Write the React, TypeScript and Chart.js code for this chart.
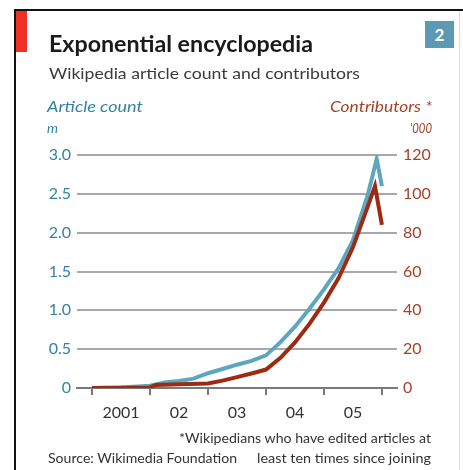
import React, { useEffect, useLayoutEffect, useRef } from "react";
import { Chart, registerables } from "chart.js";

Chart.register(...registerables);

// ---- data ----
const ARTICLE_YEARS = [2001.0, 2001.5, 2002.0, 2002.25, 2002.5, 2002.75, 2003.0, 2003.25, 2003.5, 2003.75, 2004.0, 2004.25, 2004.5, 2004.75, 2005.0, 2005.25, 2005.5, 2005.75, 2005.91, 2006.0];
const ARTICLE_COUNT_M = [0.0, 0.005, 0.03, 0.07, 0.09, 0.12, 0.19, 0.245, 0.3, 0.35, 0.42, 0.59, 0.79, 1.02, 1.27, 1.54, 1.9, 2.47, 2.95, 2.6];

const CONTRIB_YEARS = [2001.0, 2002.0, 2002.1, 2002.5, 2003.0, 2003.25, 2003.5, 2003.75, 2004.0, 2004.25, 2004.5, 2004.75, 2005.0, 2005.25, 2005.5, 2005.75, 2005.88, 2006.0];
const CONTRIBUTORS_K = [0, 0.3, 1.6, 1.9, 2.3, 3.8, 5.6, 7.5, 9.5, 15.5, 23.5, 33, 44, 56.5, 72.5, 93, 104, 84];

const YEAR_BOUNDARIES = [2001, 2002, 2003, 2004, 2005, 2006];
const YEAR_LABEL_POS = [2001.5, 2002.5, 2003.5, 2004.5, 2005.5];
const YEAR_LABELS = ["2001", "02", "03", "04", "05"];

const LEFT_MIN = 0, LEFT_MAX = 3, LEFT_STEP = 0.5;
const RIGHT_MIN = 0, RIGHT_MAX = 120, RIGHT_STEP = 20;
const X_MIN = 2000.74, X_MAX = 2006.26;

// ---- style ----
const BLUE = "#5ea6bf";
const RED = "#9b2c13";
const BLUE_TXT = "#3383a0";
const RED_TXT = "#a3412a";
const GRID = "#a8a8a8";
const AXIS = "#7a7a7a";
const FONT = "Lato, 'Open Sans', sans-serif";

type TxtProps = {
  left: number; width?: number; cy: number; size: number;
  weight?: number | string; italic?: boolean; color: string; children: React.ReactNode;
};

function Txt({ left, width, cy, size, weight = 400, italic = false, color, children }: TxtProps) {
  const ref = useRef<HTMLDivElement>(null);
  useLayoutEffect(() => {
    const el = ref.current;
    if (!el || !width) return;
    el.style.transform = "none";
    const w = el.getBoundingClientRect().width;
    if (w > 0) el.style.transform = `scaleX(${width / w})`;
  });
  return (
    <div
      ref={ref}
      style={{
        position: "absolute",
        left,
        top: cy - size * 0.6,
        fontFamily: FONT,
        fontSize: size,
        lineHeight: `${size * 1.2}px`,
        fontWeight: weight as any,
        fontStyle: italic ? "italic" : "normal",
        color,
        whiteSpace: "nowrap",
        transformOrigin: "0 50%",
      }}
    >
      {children}
    </div>
  );
}

export default function App() {
  const canvasRef = useRef<HTMLCanvasElement>(null);

  useEffect(() => {
    const canvas = canvasRef.current;
    if (!canvas) return;
    const chart = new Chart(canvas, {
      type: "line",
      data: {
        datasets: [
          {
            label: "Contributors ('000)",
            data: CONTRIB_YEARS.map((x, i) => ({ x, y: CONTRIBUTORS_K[i] })),
            borderColor: RED,
            borderWidth: 4,
            pointRadius: 0,
            tension: 0,
            borderJoinStyle: "miter",
            yAxisID: "yR",
            xAxisID: "x",
            order: 0,
          },
          {
            label: "Article count (m)",
            data: ARTICLE_YEARS.map((x, i) => ({ x, y: ARTICLE_COUNT_M[i] })),
            borderColor: BLUE,
            borderWidth: 4,
            pointRadius: 0,
            tension: 0,
            borderJoinStyle: "miter",
            yAxisID: "yL",
            xAxisID: "x",
            order: 1,
          },
        ],
      },
      options: {
        responsive: false,
        animation: false,
        devicePixelRatio: 1,
        layout: { padding: { top: 155, left: 0, right: 0, bottom: 0 } },
        plugins: { legend: { display: false }, tooltip: { enabled: false }, title: { display: false } },
        scales: {
          x: {
            type: "linear",
            position: "bottom",
            weight: 0,
            min: X_MIN,
            max: X_MAX,
            afterBuildTicks: (s: any) => { s.ticks = YEAR_BOUNDARIES.map((v) => ({ value: v })); },
            afterFit: (s: any) => { s.height = 14; },
            ticks: { display: false },
            grid: { display: true, drawOnChartArea: false, drawTicks: true, tickLength: 7, color: AXIS, lineWidth: 2 },
            border: { display: true, color: AXIS, width: 2 },
          },
          x2: {
            type: "linear",
            position: "bottom",
            weight: 1,
            min: X_MIN,
            max: X_MAX,
            afterBuildTicks: (s: any) => { s.ticks = YEAR_LABEL_POS.map((v) => ({ value: v })); },
            afterFit: (s: any) => { s.height = 68; },
            ticks: {
              autoSkip: false,
              maxRotation: 0,
              padding: 1,
              color: "#333",
              font: { family: FONT, size: 16 },
              callback: (_v: any, i: number) => YEAR_LABELS[i],
            },
            grid: { display: false, drawTicks: false },
            border: { display: false },
          },
          yL: {
            type: "linear",
            position: "left",
            min: LEFT_MIN,
            max: LEFT_MAX,
            afterFit: (s: any) => { s.width = 77; },
            ticks: {
              stepSize: LEFT_STEP,
              padding: 6,
              color: BLUE_TXT,
              font: { family: FONT, size: 16 },
              callback: (v: any) => (Number(v) === 0 ? "0" : Number(v).toFixed(1)),
            },
            grid: { display: true, drawTicks: false, color: GRID, lineWidth: 2 },
            border: { display: false },
          },
          yR: {
            type: "linear",
            position: "right",
            min: RIGHT_MIN,
            max: RIGHT_MAX,
            afterFit: (s: any) => { s.width = 66; },
            ticks: {
              stepSize: RIGHT_STEP,
              padding: 6,
              color: RED_TXT,
              font: { family: FONT, size: 16 },
            },
            grid: { display: false, drawOnChartArea: false, drawTicks: false },
            border: { display: false },
          },
        },
      },
    });
    return () => chart.destroy();
  }, []);

  return (
    <div style={{ position: "absolute", left: 0, top: 0, width: 463, height: 470, background: "#fff", overflow: "hidden" }}>
      {/* frame */}
      <div style={{ position: "absolute", left: 14, top: 9, width: 449, height: 2, background: "#111" }} />
      <div style={{ position: "absolute", left: 14, top: 9, width: 2, height: 461, background: "#111" }} />
      <div style={{ position: "absolute", left: 459, top: 11, width: 1, height: 459, background: "#ddd" }} />
      <div style={{ position: "absolute", left: 16, top: 11, width: 11, height: 41, background: "#ee3124" }} />
      <div style={{ position: "absolute", left: 425, top: 21, width: 29, height: 27, background: "#5b9ab2", color: "#fff", fontFamily: FONT, fontWeight: 700, fontSize: 17, lineHeight: "27px", textAlign: "center" }}>2</div>

      <canvas ref={canvasRef} width={463} height={470} style={{ position: "absolute", left: 0, top: 0 }} />

      <Txt left={49} width={264} cy={44} size={23} weight={700} color="#1a1a1a">Exponential encyclopedia</Txt>
      <Txt left={49} width={311} cy={73} size={16} color="#3a3a3a">Wikipedia article count and contributors</Txt>
      <Txt left={47} width={96} cy={106} size={16} italic color={BLUE_TXT}>Article count</Txt>
      <Txt left={47} cy={128} size={14} italic color={BLUE_TXT}>m</Txt>
      <Txt left={330} width={102} cy={106} size={16} italic color={RED_TXT}>Contributors *</Txt>
      <Txt left={410} width={22} cy={128} size={14} italic color={RED_TXT}>'000</Txt>
      <Txt left={179} width={252} cy={438} size={14} color="#333">*Wikipedians who have edited articles at</Txt>
      <Txt left={48} width={189} cy={458} size={14} color="#333">Source: Wikimedia Foundation</Txt>
      <Txt left={257} width={174} cy={458} size={14} color="#333">least ten times since joining</Txt>
    </div>
  );
}
